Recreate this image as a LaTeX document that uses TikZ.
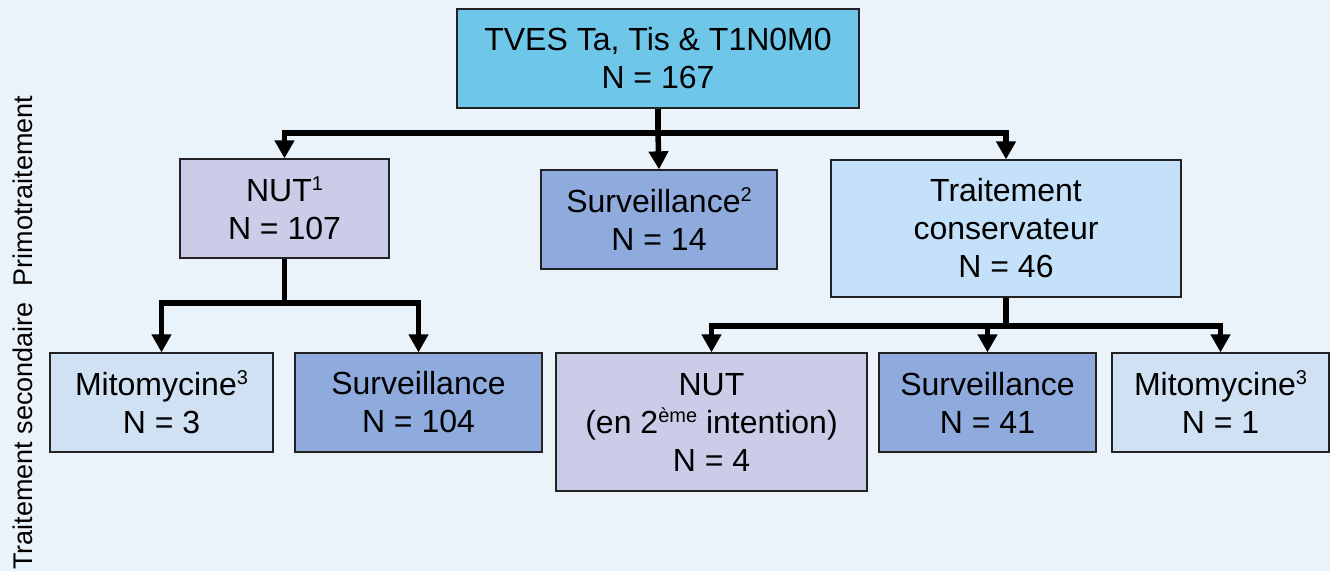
\documentclass[tikz,border=0pt]{standalone}
\usepackage{fontspec}
\setmainfont{Liberation Sans}
\usetikzlibrary{arrows.meta}
\definecolor{bgc}{HTML}{EAF2FA}
\definecolor{topc}{HTML}{6EC6E9}
\definecolor{lavc}{HTML}{CBCDE8}
\definecolor{survc}{HTML}{8FAADC}
\definecolor{consc}{HTML}{C5E1FA}
\definecolor{mitoc}{HTML}{CFE1F3}
\definecolor{edgec}{HTML}{222222}
\newcommand{\supr}[1]{\raisebox{11pt}{\fontsize{20}{20}\selectfont #1}}
\tikzset{
  box/.style={draw=edgec, line width=1.3pt, inner sep=0pt, align=center,
    font=\fontsize{32}{38}\selectfont},
  conn/.style={line width=5.5pt, draw=black, -{Triangle[width=19pt,length=18pt]}},
  plain/.style={line width=5.5pt, draw=black},
  side/.style={rotate=90, anchor=base, font=\fontsize{27}{27}\selectfont}
}
\begin{document}
\begin{tikzpicture}[x=1pt,y=-1pt]
\fill[bgc] (0,0) rectangle (1330,571);
\useasboundingbox (0,0) rectangle (1330,571);

\node[side] (lab1) at (32,191) {Primotraitement};
\node[side] (lab2) at (32,436) {Traitement secondaire};

\node[box, fill=topc, minimum width=402pt, minimum height=99pt] (top) at (658,58.5)
  {TVES Ta, Tis \& T1N0M0\\N = 167};
\node[box, fill=lavc, minimum width=209pt, minimum height=99pt] (nut) at (284.5,208.5)
  {NUT\supr{1}\\N = 107};
\node[box, fill=survc, minimum width=236pt, minimum height=99pt] (surv1) at (659,219.5)
  {Surveillance\supr{2}\\N = 14};
\node[box, fill=consc, minimum width=350pt, minimum height=137pt] (cons) at (1006,228.5)
  {Traitement\\conservateur\\N = 46};

\node[box, fill=mitoc, minimum width=223pt, minimum height=99pt] (mito1) at (161.5,402.5)
  {Mitomycine\supr{3}\\N = 3};
\node[box, fill=survc, minimum width=247pt, minimum height=99pt] (surv2) at (418.5,402.5)
  {Surveillance\\N = 104};
\node[box, fill=lavc, minimum width=311pt, minimum height=138pt] (nut2) at (711.5,422)
  {NUT\\(en 2\supr{ème} intention)\\N = 4};
\node[box, fill=survc, minimum width=217pt, minimum height=99pt] (surv3) at (987.5,402.5)
  {Surveillance\\N = 41};
\node[box, fill=mitoc, minimum width=217pt, minimum height=99pt] (mito2) at (1220.5,402.5)
  {Mitomycine\supr{3}\\N = 1};

\coordinate (h1) at (658,133);
\coordinate (h2) at (284.5,303);
\coordinate (h3) at (1006,326);

\draw[plain] (top.south) -- (h1);
\draw[conn] (h1) -| (nut.north);
\draw[conn] (h1) -| (cons.north);
\draw[conn] (h1) -- (surv1.north);

\draw[plain] (nut.south) -- (h2);
\draw[conn] (h2) -| (mito1.north);
\draw[conn] (h2) -| (surv2.north);

\draw[plain] (cons.south) -- (h3);
\draw[conn] (h3) -| (nut2.north);
\draw[conn] (h3) -| (surv3.north);
\draw[conn] (h3) -| (mito2.north);
\end{tikzpicture}
\end{document}
